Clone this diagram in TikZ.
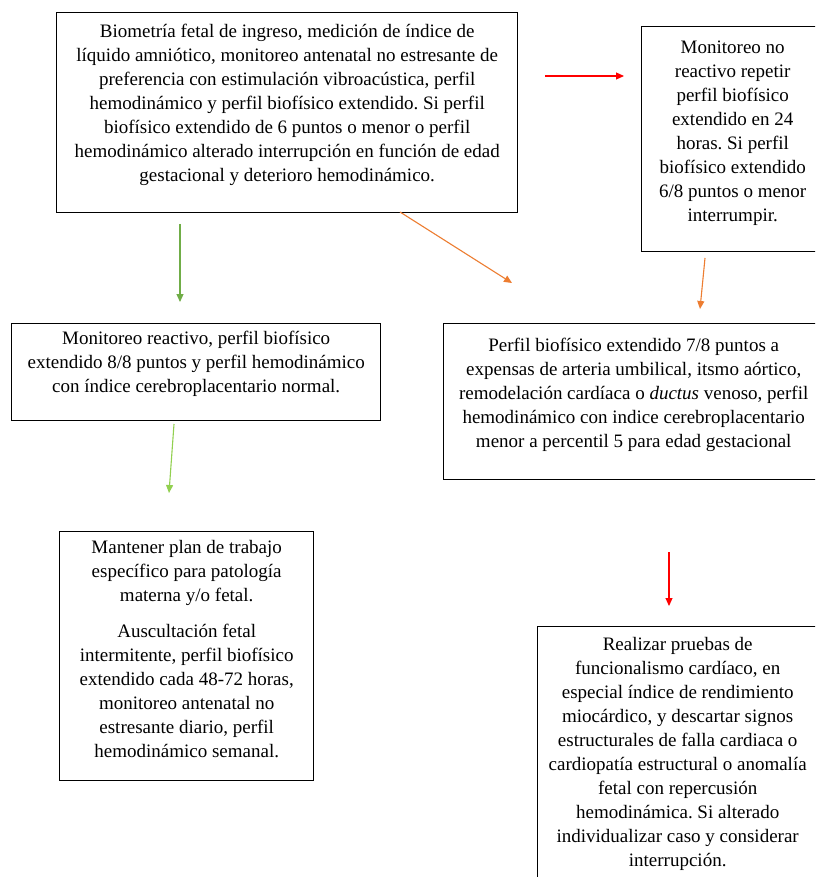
\documentclass[tikz,border=0pt]{standalone}
\usepackage{fontspec}
\setmainfont{Liberation Serif}
\usetikzlibrary{arrows.meta}
\frenchspacing
\definecolor{arrred}{RGB}{255,0,0}
\definecolor{arrgreen}{RGB}{112,173,71}
\definecolor{arrorange}{RGB}{237,125,49}
\definecolor{arrlime}{RGB}{146,208,80}
\newcommand{\boxtext}[4]{\parbox[t][#2pt][t]{#1pt}{\centering\frenchspacing\fontsize{19pt}{24pt}\selectfont\vspace*{#3pt}\rule{0pt}{17pt}#4}}
\tikzset{
  infobox/.style={draw=black, line width=1.4pt, inner sep=0pt, anchor=north west, fill=white},
  flowarrow/.style={line width=1.1pt, -{Triangle[length=8pt,width=7pt]}}
}
\begin{document}
\begin{tikzpicture}[x=1pt,y=-1pt]
\useasboundingbox (0,0) rectangle (815,877);
\fill[white] (0,0) rectangle (815,877);
\begin{scope}
\clip (0,0) rectangle (815,877);

\node[infobox] (A) at (56,12) {\boxtext{461}{200}{8}{Biometría fetal de ingreso, medición de índice de\\
líquido amniótico, monitoreo antenatal no estresante de\\
preferencia con estimulación vibroacústica, perfil\\
hemodinámico y perfil biofísico extendido. Si perfil\\
biofísico extendido de 6 puntos o menor o perfil\\
hemodinámico alterado interrupción en función de edad\\
gestacional y deterioro hemodinámico.}};

\node[infobox] (B) at (641,26) {\boxtext{182}{225}{10}{Monitoreo no\\
reactivo repetir\\
perfil biofísico\\
extendido en 24\\
horas. Si perfil\\
biofísico extendido\\
6/8 puntos o menor\\
interrumpir.}};

\node[infobox] (C) at (11,323) {\boxtext{369}{97}{4}{Monitoreo reactivo, perfil biofísico\\
extendido 8/8 puntos y perfil hemodinámico\\
con índice cerebroplacentario normal.}};

\node[infobox] (D) at (443,323) {\boxtext{380}{156}{11}{Perfil biofísico extendido 7/8 puntos a\\
expensas de arteria umbilical, itsmo aórtico,\\
remodelación cardíaca o \textit{ductus} venoso, perfil\\
hemodinámico con indice cerebroplacentario\\
menor a percentil 5 para edad gestacional}};

\node[infobox] (E) at (59,531) {\boxtext{254}{249}{5}{Mantener plan de trabajo\\
específico para patología\\
materna y/o fetal.\par\vspace{12pt}
Auscultación fetal\\
intermitente, perfil biofísico\\
extendido cada 48-72 horas,\\
monitoreo antenatal no\\
estresante diario, perfil\\
hemodinámico semanal.}};

\node[infobox] (F) at (537,626) {\boxtext{280}{300}{7}{Realizar pruebas de\\
funcionalismo cardíaco, en\\
especial índice de rendimiento\\
miocárdico, y descartar signos\\
estructurales de falla cardiaca o\\
cardiopatía estructural o anomalía\\
fetal con repercusión\\
hemodinámica. Si alterado\\
individualizar caso y considerar\\
interrupción.}};

\coordinate (r1s) at (545,76);
\coordinate (r1e) at (624,76);
\coordinate (g1s) at (180,224);
\coordinate (g1e) at (180,302);
\coordinate (o1s) at (400,212);
\coordinate (o1e) at (512,283);
\coordinate (o2s) at (705,258);
\coordinate (o2e) at (700,309);
\coordinate (l1s) at (174,424);
\coordinate (l1e) at (169,493);
\coordinate (r2s) at (669,552);
\coordinate (r2e) at (669,606);

\draw[flowarrow, arrred] (r1s) -- (r1e);
\draw[flowarrow, arrgreen] (g1s) -- (g1e);
\draw[flowarrow, arrorange] (o1s) -- (o1e);
\draw[flowarrow, arrorange] (o2s) -- (o2e);
\draw[flowarrow, arrlime] (l1s) -- (l1e);
\draw[flowarrow, arrred] (r2s) -- (r2e);
\end{scope}
\end{tikzpicture}
\end{document}
